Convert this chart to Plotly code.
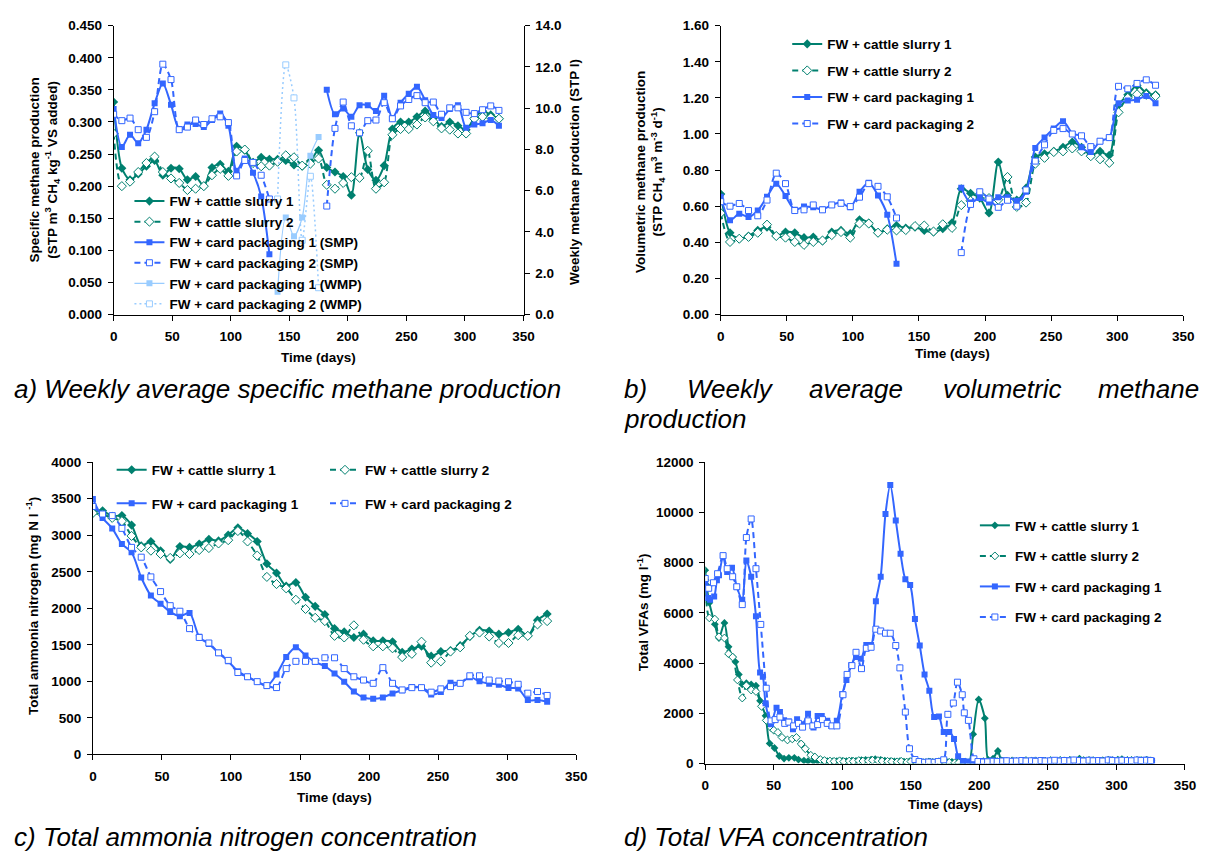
import plotly.graph_objects as go

W, H = 1217, 859
def px(x): return x / W
def py(y): return 1 - y / H

TEAL = "#00806F"
BLUE = "#3366FF"
LIGHT = "#99CCFF"
FONT = "Liberation Sans, Arial, sans-serif"

# ---------------- data ----------------
days = [0, 7, 14, 21, 28, 35, 42, 49, 56, 63,
        70, 77, 84, 91, 98, 105, 112, 119, 126, 133,
        140, 147, 154, 161, 168, 175, 182, 189, 196, 203,
        210, 217, 224, 231, 238, 245, 252, 259, 266, 273,
        280, 287, 294, 301, 308, 315, 322, 329]

# a) specific methane production (STP m3 CH4 / kg VS added)
smp_slurry1 = [0.331, 0.228, 0.210, 0.219, 0.231, 0.240, 0.217, 0.228, 0.227, 0.210,
               0.215, 0.200, 0.229, 0.234, 0.223, 0.262, 0.256, 0.237, 0.245, 0.242,
               0.242, 0.240, 0.233, 0.231, 0.239, 0.256, 0.229, 0.222, 0.215, 0.186,
               0.283, 0.226, 0.209, 0.232, 0.289, 0.300, 0.300, 0.308, 0.317, 0.306,
               0.293, 0.300, 0.294, 0.288, 0.306, 0.317, 0.311, 0.305]
smp_slurry2 = [0.282, 0.200, 0.207, 0.222, 0.236, 0.246, 0.222, 0.212, 0.205, 0.194,
               0.196, 0.200, 0.217, 0.227, 0.216, 0.254, 0.257, 0.236, 0.231, 0.232,
               0.238, 0.248, 0.245, 0.232, 0.235, 0.243, 0.202, 0.196, 0.205, 0.214,
               0.213, 0.255, 0.196, 0.206, 0.280, 0.289, 0.289, 0.296, 0.307, 0.301,
               0.290, 0.288, 0.282, 0.282, 0.305, 0.308, 0.307, 0.305]
smp_card1 = [0.320, 0.261, 0.280, 0.267, 0.288, 0.329, 0.360, 0.327, 0.289, 0.296,
             0.297, 0.292, 0.303, 0.313, 0.294, 0.224, 0.243, 0.221, 0.184, 0.094,
             None, None, None, None, None, None, 0.350, 0.312, 0.321, 0.308,
             0.326, 0.326, 0.317, 0.341, 0.306, 0.330, 0.344, 0.355, 0.334, 0.311,
             0.306, 0.320, 0.326, 0.291, 0.296, 0.298, 0.303, 0.294]
smp_card2 = [0.312, 0.302, 0.306, 0.288, 0.276, 0.316, 0.390, 0.366, 0.288, 0.292,
             0.303, 0.296, 0.305, 0.308, 0.299, 0.216, 0.240, 0.237, 0.217, 0.180,
             None, None, None, None, None, None, 0.169, 0.290, 0.331, 0.294,
             0.283, 0.302, 0.303, 0.330, 0.305, 0.325, 0.335, 0.341, 0.330, 0.331,
             0.312, 0.322, 0.322, 0.315, 0.313, 0.319, 0.325, 0.318]
wmp_days = [140, 147, 154, 161, 168, 175]
wmp_card1 = [1.1, 4.7, 3.8, 4.7, 7.7, 8.6]
wmp_card2 = [5.6, 12.1, 10.5, 3.6, 6.7, 1.3]

# b) volumetric methane production (STP CH4 m-3 d-1)
vmp_slurry1 = [0.667, 0.453, 0.420, 0.435, 0.466, 0.484, 0.435, 0.457, 0.453, 0.426,
               0.429, 0.408, 0.457, 0.466, 0.448, 0.525, 0.507, 0.453, 0.475, 0.493,
               0.479, 0.484, 0.466, 0.457, 0.475, 0.508, 0.697, 0.672, 0.645, 0.563,
               0.845, 0.660, 0.634, 0.700, 0.872, 0.890, 0.904, 0.926, 0.955, 0.926,
               0.882, 0.904, 0.882, 1.159, 1.217, 1.268, 1.228, 1.217]
vmp_slurry2 = [0.562, 0.402, 0.420, 0.430, 0.453, 0.498, 0.435, 0.426, 0.402, 0.386,
               0.402, 0.410, 0.440, 0.457, 0.426, 0.504, 0.504, 0.453, 0.470, 0.466,
               0.468, 0.490, 0.493, 0.460, 0.500, 0.480, 0.606, 0.630, 0.667, 0.645,
               0.636, 0.762, 0.596, 0.620, 0.835, 0.868, 0.900, 0.904, 0.920, 0.904,
               0.877, 0.860, 0.840, 1.120, 1.200, 1.220, 1.217, 1.210]
vmp_card1 = [0.652, 0.522, 0.558, 0.540, 0.576, 0.652, 0.725, 0.656, 0.580, 0.598,
             0.594, 0.583, 0.607, 0.620, 0.594, 0.680, 0.730, 0.660, 0.553, 0.281,
             None, None, None, None, None, None, 0.702, 0.620, 0.645, 0.620,
             0.650, 0.650, 0.630, 0.680, 0.923, 0.980, 1.030, 1.070, 1.000, 0.926,
             0.900, 0.960, 0.980, 1.170, 1.185, 1.190, 1.210, 1.170]
vmp_card2 = [0.625, 0.600, 0.615, 0.576, 0.547, 0.634, 0.783, 0.725, 0.576, 0.580,
             0.607, 0.580, 0.607, 0.616, 0.598, 0.650, 0.725, 0.710, 0.652, 0.535,
             None, None, None, None, None, None, 0.343, 0.610, 0.680, 0.640,
             0.594, 0.633, 0.600, 0.690, 0.850, 0.940, 1.020, 1.030, 1.000, 0.990,
             0.930, 0.960, 0.980, 1.264, 1.250, 1.280, 1.300, 1.270]

# c) total ammonia nitrogen (mg N/l)
tan_slurry1 = [3318, 3336, 3260, 3269, 3139, 2857, 2915, 2789, 2668, 2847,
               2834, 2879, 2946, 2923, 3004, 3103, 3022, 2915, 2610, 2484,
               2305, 2354, 2152, 2027, 1915, 1722, 1677, 1601, 1646, 1556,
               1556, 1543, 1399, 1444, 1480, 1345, 1408, 1421, 1489, 1614,
               1699, 1690, 1646, 1668, 1713, 1623, 1838, 1923]
tan_slurry2 = [3305, 3283, 3238, 3193, 2991, 2834, 2789, 2744, 2690, 2753,
               2744, 2798, 2825, 2888, 2933, 3058, 2915, 2722, 2430, 2332,
               2273, 2117, 1991, 1870, 1825, 1623, 1601, 1767, 1570, 1480,
               1480, 1453, 1332, 1377, 1543, 1256, 1274, 1408, 1466, 1623,
               1668, 1614, 1525, 1525, 1632, 1623, 1780, 1825]
tan_card1 = [3498, 3238, 3094, 2879, 2767, 2422, 2175, 2063, 1951, 1892,
             1937, 1610, 1511, 1390, 1274, 1139, 1063, 996, 937, 1094,
             1332, 1466, 1354, 1264, 1210, 1108, 995, 861, 780, 762,
             780, 834, 879, 923, 910, 820, 856, 981, 977, 1058,
             1000, 968, 955, 910, 901, 744, 744, 722]
tan_card2 = [3394, 3291, 3269, 3094, 2834, 2700, 2430, 2229, 2036, 1960,
             1722, 1601, 1525, 1390, 1287, 1121, 1063, 996, 942, 915,
             1175, 1274, 1274, 1274, 1323, 1323, 1175, 1063, 1018, 973,
             1188, 973, 883, 914, 914, 852, 897, 928, 973, 1076,
             1076, 1018, 1004, 995, 960, 838, 861, 807]

# d) total VFAs (mg/l)
vfa_days_slurry1 = [0, 1, 3, 7, 10, 14, 17, 20, 22, 24.5,
                    27, 30, 33.5, 37, 40, 44, 47, 50.5, 54, 57.5,
                    61, 65, 68, 72, 75, 79, 82, 86, 89, 93,
                    96, 100, 103, 107, 110, 114, 117, 121, 124, 128,
                    131, 135, 138, 142, 145, 149, 152, 156, 159, 163,
                    166, 170, 173, 177, 180, 184, 187, 190, 192.5, 195.5,
                    199.5, 204, 206.5, 210, 213.5, 216, 220, 224, 227, 231,
                    234, 238, 241, 245, 248, 252, 255, 259, 262, 266,
                    269, 273, 276, 280, 283, 287, 290, 294, 297, 301,
                    304, 308, 311, 315, 318, 322, 325]
vfa_slurry1 = [7700, 7100, 6400, 5550, 5000, 5600, 4650, 4250, 4050, 3550,
               3150, 3200, 3150, 3100, 2500, 1900, 800, 620, 300, 200,
               230, 230, 160, 120, 100, 90, 100, 80, 100, 90,
               100, 110, 100, 120, 110, 140, 150, 160, 180, 150,
               120, 100, 90, 100, 80, 90, 70, 80, 60, 80,
               70, 90, 80, 60, 70, 60, 50, 80, 40, 1170,
               2550, 1800, 150, 200, 500, 130, 80, 100, 90, 110,
               100, 120, 90, 100, 110, 130, 100, 120, 110, 150,
               130, 200, 140, 110, 120, 100, 130, 150, 120, 160,
               180, 140, 120, 150, 130, 140, 120]
vfa_days_slurry2 = [0, 3, 7, 10, 14, 17, 20, 23.5, 27, 30,
                    33.5, 37, 41, 44.5, 48, 50, 53, 56, 60, 63.5,
                    66.5, 70, 73, 77, 80, 84, 87, 91, 94, 98,
                    101, 105, 108, 112, 115, 119, 122, 126, 129, 133,
                    136, 140, 143, 147, 150, 154, 157, 161, 164, 168,
                    171, 175, 178, 182, 185, 189, 192, 196, 199, 203,
                    206, 210, 213, 217, 220, 224, 227, 231, 234, 238,
                    241, 245, 248, 252, 255, 259, 262, 266, 269, 273,
                    276, 280, 283, 287, 290, 294, 297, 301, 304, 308,
                    311, 315, 318, 322, 325]
vfa_slurry2 = [7300, 5800, 5750, 5050, 5000, 4370, 4240, 3330, 2610, 3100,
               2930, 2870, 2280, 1720, 1430, 1330, 1240, 1040, 940, 980,
               1040, 780, 590, 330, 260, 160, 120, 100, 90, 110,
               80, 100, 90, 120, 100, 110, 130, 120, 100, 90,
               80, 70, 90, 60, 80, 50, 60, 40, 60, 50,
               70, 40, 50, 30, 40, 20, 30, 20, 60, 80,
               70, 90, 80, 100, 90, 110, 80, 100, 120, 90,
               110, 100, 90, 120, 100, 130, 110, 120, 100, 140,
               110, 130, 120, 100, 110, 130, 120, 110, 140, 120,
               130, 110, 120, 140, 110]
vfa_days_card1 = [0, 2, 3.5, 6.5, 8.5, 10, 13, 16, 19.5, 23,
                  27, 30, 33.5, 37, 40, 42, 44, 48, 52, 54.5,
                  57.5, 61, 64, 67, 71, 75, 79, 82, 85, 89,
                  92, 96, 100, 103, 106.5, 110, 113.5, 117.5, 121, 124.5,
                  128, 131.5, 135, 139, 142.5, 146, 149.5, 153, 156.5, 160,
                  163.5, 167, 170.5, 174, 178, 181.5, 184.5, 188, 191, 195,
                  198, 202, 205, 209, 212, 216, 219, 223, 226, 230,
                  233, 237, 240, 244, 247, 251, 254, 258, 261, 265,
                  268, 272, 275, 279, 282, 286, 289, 293, 296, 300,
                  303, 307, 310, 314, 317, 321, 324, 326]
vfa_card1 = [7170, 6590, 6520, 6650, 7300, 7500, 8260, 7630, 7800, 7040,
             6520, 8090, 7440, 5870, 3630, 3460, 2400, 1570, 2220, 2050,
             1720, 1670, 1370, 1760, 1570, 1980, 1440, 1890, 1890, 1700,
             1500, 1700, 2770, 3330, 3910, 4240, 4170, 4720, 4720, 6460,
             7440, 9940, 11090, 9680, 8350, 7340, 7110, 5760, 4700, 3550,
             2900, 1850, 1870, 1260, 1260, 980, 290, 100, 80, 60,
             90, 100, 80, 110, 90, 100, 120, 90, 110, 100,
             80, 100, 120, 90, 110, 100, 130, 110, 100, 120,
             110, 140, 100, 120, 130, 110, 100, 120, 150, 130,
             110, 140, 120, 130, 110, 150, 120, 110]
vfa_days_card2 = [0, 2.5, 6, 9, 13, 16, 20, 23, 27, 30,
                  33.5, 37, 40.5, 44.5, 48, 51, 54.5, 58, 61, 64.5,
                  68, 71, 75, 78.5, 82, 85.5, 89, 92.5, 96, 100.5,
                  103.5, 107, 110, 114, 117.5, 121, 124.5, 128, 131.5, 135,
                  139, 142, 146, 149, 153, 156, 160, 163, 167, 170,
                  174, 177, 181, 184, 187.5, 189, 192, 196, 199, 203,
                  206, 210, 213, 217, 220, 224, 227, 231, 234, 238,
                  241, 245, 248, 252, 255, 259, 262, 266, 269, 273,
                  276, 280, 283, 287, 290, 294, 297, 301, 304, 308,
                  311, 315, 318, 322, 325]
vfa_card2 = [7370, 6980, 7200, 7560, 8280, 7760, 7440, 7040, 6330, 9000,
             9740, 7760, 5540, 3000, 1700, 1750, 1850, 1600, 1650, 1500,
             1600, 1450, 1700, 1500, 1550, 1750, 1600, 1500, 1500, 2740,
             3550, 3900, 4430, 3780, 4590, 4630, 5350, 5280, 5190, 5190,
             4700, 3810, 2050, 590, 160, 80, 50, 60, 50, 80,
             150, 1960, 2410, 3240, 2740, 2020, 1720, 190, 80, 60,
             70, 90, 80, 100, 110, 90, 100, 120, 100, 110,
             90, 120, 100, 110, 130, 100, 120, 110, 140, 120,
             100, 130, 110, 120, 100, 140, 120, 110, 130, 120,
             110, 140, 120, 130, 120]

names = ["FW + cattle slurry 1", "FW + cattle slurry 2",
         "FW + card packaging 1", "FW + card packaging 2"]

# ---------------- styles ----------------
DASH = "6px,4px"
STY = {
    "s1": dict(line=dict(color=TEAL, width=2, shape="spline", smoothing=0.8),
               marker=dict(symbol="diamond", size=7, color=TEAL)),
    "s2": dict(line=dict(color=TEAL, width=2, dash=DASH, shape="spline", smoothing=0.8),
               marker=dict(symbol="diamond", size=7, color="white", line=dict(color=TEAL, width=1))),
    "c1": dict(line=dict(color=BLUE, width=2, shape="spline", smoothing=0.8),
               marker=dict(symbol="square", size=6, color=BLUE)),
    "c2": dict(line=dict(color=BLUE, width=2, dash=DASH, shape="spline", smoothing=0.8),
               marker=dict(symbol="square", size=6, color="white", line=dict(color=BLUE, width=1))),
    "w1": dict(line=dict(color=LIGHT, width=1.2, shape="spline", smoothing=0.8),
               marker=dict(symbol="square", size=6, color=LIGHT)),
    "w2": dict(line=dict(color=LIGHT, width=1.5, dash="2px,3px", shape="spline", smoothing=0.8),
               marker=dict(symbol="square", size=6, color="white", line=dict(color=LIGHT, width=1))),
}

fig = go.Figure()

def add(x, y, key, name, xa, ya, legend, group):
    fig.add_trace(go.Scatter(x=x, y=y, mode="lines+markers", name=name,
                             xaxis=xa, yaxis=ya, legend=legend, legendgroup=group,
                             connectgaps=False, hoverinfo="skip", **STY[key]))

# panel a
add(days, smp_slurry1, "s1", names[0], "x", "y", "legend", "a1")
add(days, smp_slurry2, "s2", names[1], "x", "y", "legend", "a2")
add(days, smp_card1, "c1", names[2] + " (SMP)", "x", "y", "legend", "a3")
add(days, smp_card2, "c2", names[3] + " (SMP)", "x", "y", "legend", "a4")
add(wmp_days, wmp_card1, "w1", names[2] + " (WMP)", "x", "y5", "legend", "a5")
add(wmp_days, wmp_card2, "w2", names[3] + " (WMP)", "x", "y5", "legend", "a6")
# panel b
add(days, vmp_slurry1, "s1", names[0], "x2", "y2", "legend2", "b1")
add(days, vmp_slurry2, "s2", names[1], "x2", "y2", "legend2", "b2")
add(days, vmp_card1, "c1", names[2], "x2", "y2", "legend2", "b3")
add(days, vmp_card2, "c2", names[3], "x2", "y2", "legend2", "b4")
# panel c
add(days, tan_slurry1, "s1", names[0], "x3", "y3", "legend3", "c1")
add(days, tan_slurry2, "s2", names[1], "x3", "y3", "legend4", "c2")
add(days, tan_card1, "c1", names[2], "x3", "y3", "legend3", "c3")
add(days, tan_card2, "c2", names[3], "x3", "y3", "legend4", "c4")
# panel d
add(vfa_days_slurry1, vfa_slurry1, "s1", names[0], "x4", "y4", "legend5", "d1")
add(vfa_days_slurry2, vfa_slurry2, "s2", names[1], "x4", "y4", "legend5", "d2")
add(vfa_days_card1, vfa_card1, "c1", names[2], "x4", "y4", "legend5", "d3")
add(vfa_days_card2, vfa_card2, "c2", names[3], "x4", "y4", "legend5", "d4")
for tr in fig.data[-4:]:
    tr.marker.size = 6

TICKFONT = dict(family=FONT, size=13.5, color="black", weight="bold")

def xax(x0, x1, anchor):
    return dict(domain=[px(x0), px(x1)], anchor=anchor, range=[0, 350], dtick=50,
                showline=True, linecolor="black", linewidth=1, ticks="outside",
                ticklen=5, tickcolor="black", showgrid=False, zeroline=False,
                tickfont=TICKFONT, ticklabelstandoff=4)

def yax(y0, y1, anchor, rng, dtick, fmt):
    return dict(domain=[py(y1), py(y0)], anchor=anchor, range=rng, dtick=dtick,
                tickformat=fmt, showline=True, linecolor="black", linewidth=1,
                ticks="outside", ticklen=5, tickcolor="black", showgrid=False,
                zeroline=False, tickfont=TICKFONT, ticklabelstandoff=3)

LEGFONT = dict(family=FONT, size=13.5, color="black", weight="bold")

def leg(x, y, gap):
    return dict(x=px(x), y=py(y), xanchor="left", yanchor="top", font=LEGFONT,
                bgcolor="rgba(0,0,0,0)", borderwidth=0, traceorder="grouped",
                tracegroupgap=gap, itemwidth=30)

annotations = []
def ann(text, x, y, size=13.5, angle=0, bold=True, italic=False, xanchor="center"):
    annotations.append(dict(text=text, x=px(x), y=py(y), xref="paper", yref="paper",
                            showarrow=False, textangle=angle, xanchor=xanchor, yanchor="middle",
                            font=dict(family=FONT, size=size, color="black",
                                      weight="bold" if bold else "normal",
                                      style="italic" if italic else "normal")))

ann("Time (days)", 318.5, 357)
ann("Time (days)", 960, 353)
ann("Time (days)", 335, 805)
ann("Time (days)", 953, 812)
ann("Specific methane production<br>(STP m<sup>3</sup> CH<sub>4</sub> kg<sup>-1</sup> VS added)", 41, 166, angle=-90)
ann("Weekly methane production (STP l)", 577, 168, angle=-90)
ann("Volumetric methane production<br>(STP CH<sub>4</sub> m<sup>3</sup> m<sup>-3</sup> d<sup>-1</sup>)", 654, 168, angle=-90)
ann("Total ammonia nitrogen (mg N l <sup>-1</sup>)", 29, 610, angle=-90)
ann("Total VFAs (mg l<sup>-1</sup>)", 647, 616, angle=-90)

CAP = 26
ann("a) Weekly average specific methane production", 8, 389, size=CAP, bold=False, italic=True, xanchor="left")
ann("b)", 626, 389, size=CAP, bold=False, italic=True, xanchor="left")
ann("Weekly", 690, 389, size=CAP, bold=False, italic=True, xanchor="left")
ann("average", 813, 389, size=CAP, bold=False, italic=True, xanchor="left")
ann("volumetric", 949, 389, size=CAP, bold=False, italic=True, xanchor="left")
ann("methane", 1212, 389, size=CAP, bold=False, italic=True, xanchor="right")
ann("production", 626, 419, size=CAP, bold=False, italic=True, xanchor="left")
ann("c) Total ammonia nitrogen concentration", 8, 845, size=CAP, bold=False, italic=True, xanchor="left")
ann("d) Total VFA concentration", 626, 845, size=CAP, bold=False, italic=True, xanchor="left")

fig.update_layout(
    width=W, height=H, margin=dict(l=0, r=0, t=0, b=0, pad=0),
    paper_bgcolor="white", plot_bgcolor="rgba(0,0,0,0)",
    font=dict(family=FONT, color="black"),
    xaxis=xax(111, 526, "y"),
    yaxis=yax(19, 313, "x", [0, 0.45], 0.05, ".3f"),
    yaxis5=dict(overlaying="y", side="right", anchor="x", range=[0, 14], dtick=2,
                tickformat=".1f", showline=True, linecolor="black", linewidth=1,
                ticks="outside", ticklen=5, tickcolor="black", showgrid=False,
                zeroline=False, tickfont=TICKFONT, ticklabelstandoff=3),
    xaxis2=xax(725.7, 1194, "y2"),
    yaxis2=yax(19, 313, "x2", [0, 1.6], 0.2, ".2f"),
    xaxis3=xax(90, 579.3, "y3"),
    yaxis3=yax(463.3, 760.7, "x3", [0, 4000], 500, "d"),
    xaxis4=xax(710, 1195.7, "y4"),
    yaxis4=yax(463.3, 770, "x4", [0, 12000], 2000, "d"),
    legend=leg(127, 182, 0),
    legend2=leg(793, 22, 6),
    legend3=leg(109, 455.5, 13),
    legend4=leg(325, 455.5, 13),
    legend5=leg(983, 512, 10),
    annotations=annotations,
    showlegend=True,
)

fig.write_html("out.html")
